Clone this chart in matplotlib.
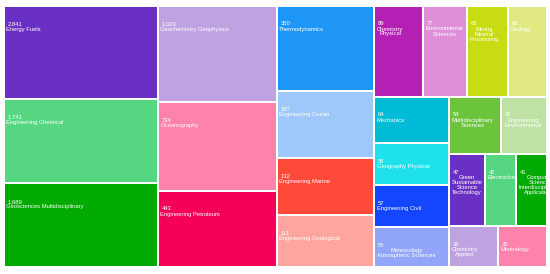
import math
import matplotlib.pyplot as plt
from matplotlib.patches import Rectangle

# Web of Science categories and record counts (labels of the treemap)
names = [
    "Energy Fuels", "Engineering Chemical", "Geosciences Multidisciplinary",
    "Geochemistry Geophysics", "Oceanography", "Engineering Petroleum",
    "Thermodynamics", "Engineering Ocean", "Engineering Marine",
    "Engineering Geological", "Chemistry\nPhysical", "Environmental\nSciences",
    "Mining\nMineral\nProcessing", "Geology", "Mechanics", "Geography Physical",
    "Engineering Civil", "Meteorology\nAtmospheric Sciences",
    "Multidisciplinary\nSciences", "Engineering\nEnvironmental",
    "Green\nSustainable\nScience\nTechnology", "Electrochemistry",
    "Computer\nScience\nInterdisciplinary\nApplications",
    "Chemistry\nApplied", "Mineralogy",
]
counts = [2841, 1741, 1689, 1020, 734, 443, 350, 187, 132, 111, 89, 77, 68, 66,
          64, 58, 57, 55, 54, 47, 47, 42, 41, 38, 38]

# box sizes (relative units, the boxes are not
# proportional to the counts)
box_sizes = [5.01, 4.52, 4.49, 3.98, 3.65, 3.15, 2.91, 2.28, 1.93, 1.77,
             1.54, 1.40, 1.28, 1.25, 1.20, 1.09, 1.08, 1.04, 1.045, 0.905,
             0.90, 0.795, 0.77, 0.695, 0.695]

palette = ['#6a2fc3', '#57d682', '#00aa00', '#bfa2e2', '#ff82ad', '#f50057',
           '#1e96f5', '#9fc8fa', '#ff4a3a', '#ffa59f', '#b420b4', '#de8fd8',
           '#c8dc14', '#e1ea82', '#00bcd6', '#1ee1ec', '#1446ff', '#91a6fb',
           '#6cc33c', '#bde2a3']

W, H = 550, 274
LEFT, TOP, WIDTH, HEIGHT = 3.6, 5.5, 543.4, 261.8
GAP = 1.0
RATIO = 0.5 * (1 + math.sqrt(5))
FS = 4.2


def worst(areas, fixed):
    s = sum(areas)
    sq = s * s
    f = fixed * fixed * RATIO
    return max(f * max(areas) / sq, sq / (f * min(areas)))


def place(row, areas, fixed, rect, flush, boxes):
    horiz = fixed == rect[2]
    total = sum(areas[i] for i in row)
    other = total / fixed
    limit = rect[3] if horiz else rect[2]
    if flush or other > limit:
        other = limit
    if horiz:
        last, end = rect[0], rect[0] + rect[2]
    else:
        last, end = rect[1], rect[1] + rect[3]
    for k, i in enumerate(row):
        step = areas[i] / other
        remain = end - last
        mod = remain if (k == len(row) - 1 or remain < step) else step
        if horiz:
            boxes[i] = (last, rect[1], mod, other)
        else:
            boxes[i] = (rect[0], last, other, mod)
        last += mod
    if horiz:
        rect[1] += other
        rect[3] -= other
    else:
        rect[0] += other
        rect[2] -= other


def squarify(sizes, x, y, w, h):
    # y runs downwards here (top-left origin)
    tot = sum(sizes)
    areas = [s / tot * w * h for s in sizes]
    rect = [x, y, w, h]
    boxes = [None] * len(sizes)
    fixed = min(w, h)
    row = []
    best = float('inf')
    i = 0
    while i < len(areas):
        row.append(i)
        score = worst([areas[j] for j in row], fixed)
        if score <= best:
            i += 1
            best = score
        else:
            row.pop()
            place(row, areas, fixed, rect, False, boxes)
            fixed = min(rect[2], rect[3])
            row = []
            best = float('inf')
    if row:
        place(row, areas, fixed, rect, True, boxes)
    return boxes


boxes = squarify(box_sizes, LEFT, TOP, WIDTH, HEIGHT)

fig = plt.figure(figsize=(W / 100, H / 100), dpi=100)
ax = fig.add_axes([0, 0, 1, 1])
ax.set_xlim(0, W)
ax.set_ylim(0, H)
ax.axis('off')

for k, (x, y, w, h) in enumerate(boxes):
    bottom = H - (y + h)
    # each box goes over the labels of the boxes before it, so long labels
    # look cut at the next box (and vanish white-on-white in the gaps)
    z = 2 + 2 * k
    r = Rectangle((x + GAP, bottom + GAP), w - 2 * GAP, h - 2 * GAP,
                  facecolor=palette[k % len(palette)], edgecolor='none',
                  zorder=z)
    ax.add_patch(r)
    ax.text(x + GAP + 2.8, H - (y + GAP + 17), f"{counts[k]:,}",
            color='white', fontsize=FS, family='Liberation Sans',
            ha='left', va='center', zorder=z + 1)
    ax.text(x + GAP + 1.6, H - (y + GAP + 20.0), names[k], color='white',
            fontsize=FS, family='Liberation Sans', ha='left', va='top',
            multialignment='center', linespacing=1.0, zorder=z + 1)

fig.savefig('out.png', dpi=100, facecolor='white')
